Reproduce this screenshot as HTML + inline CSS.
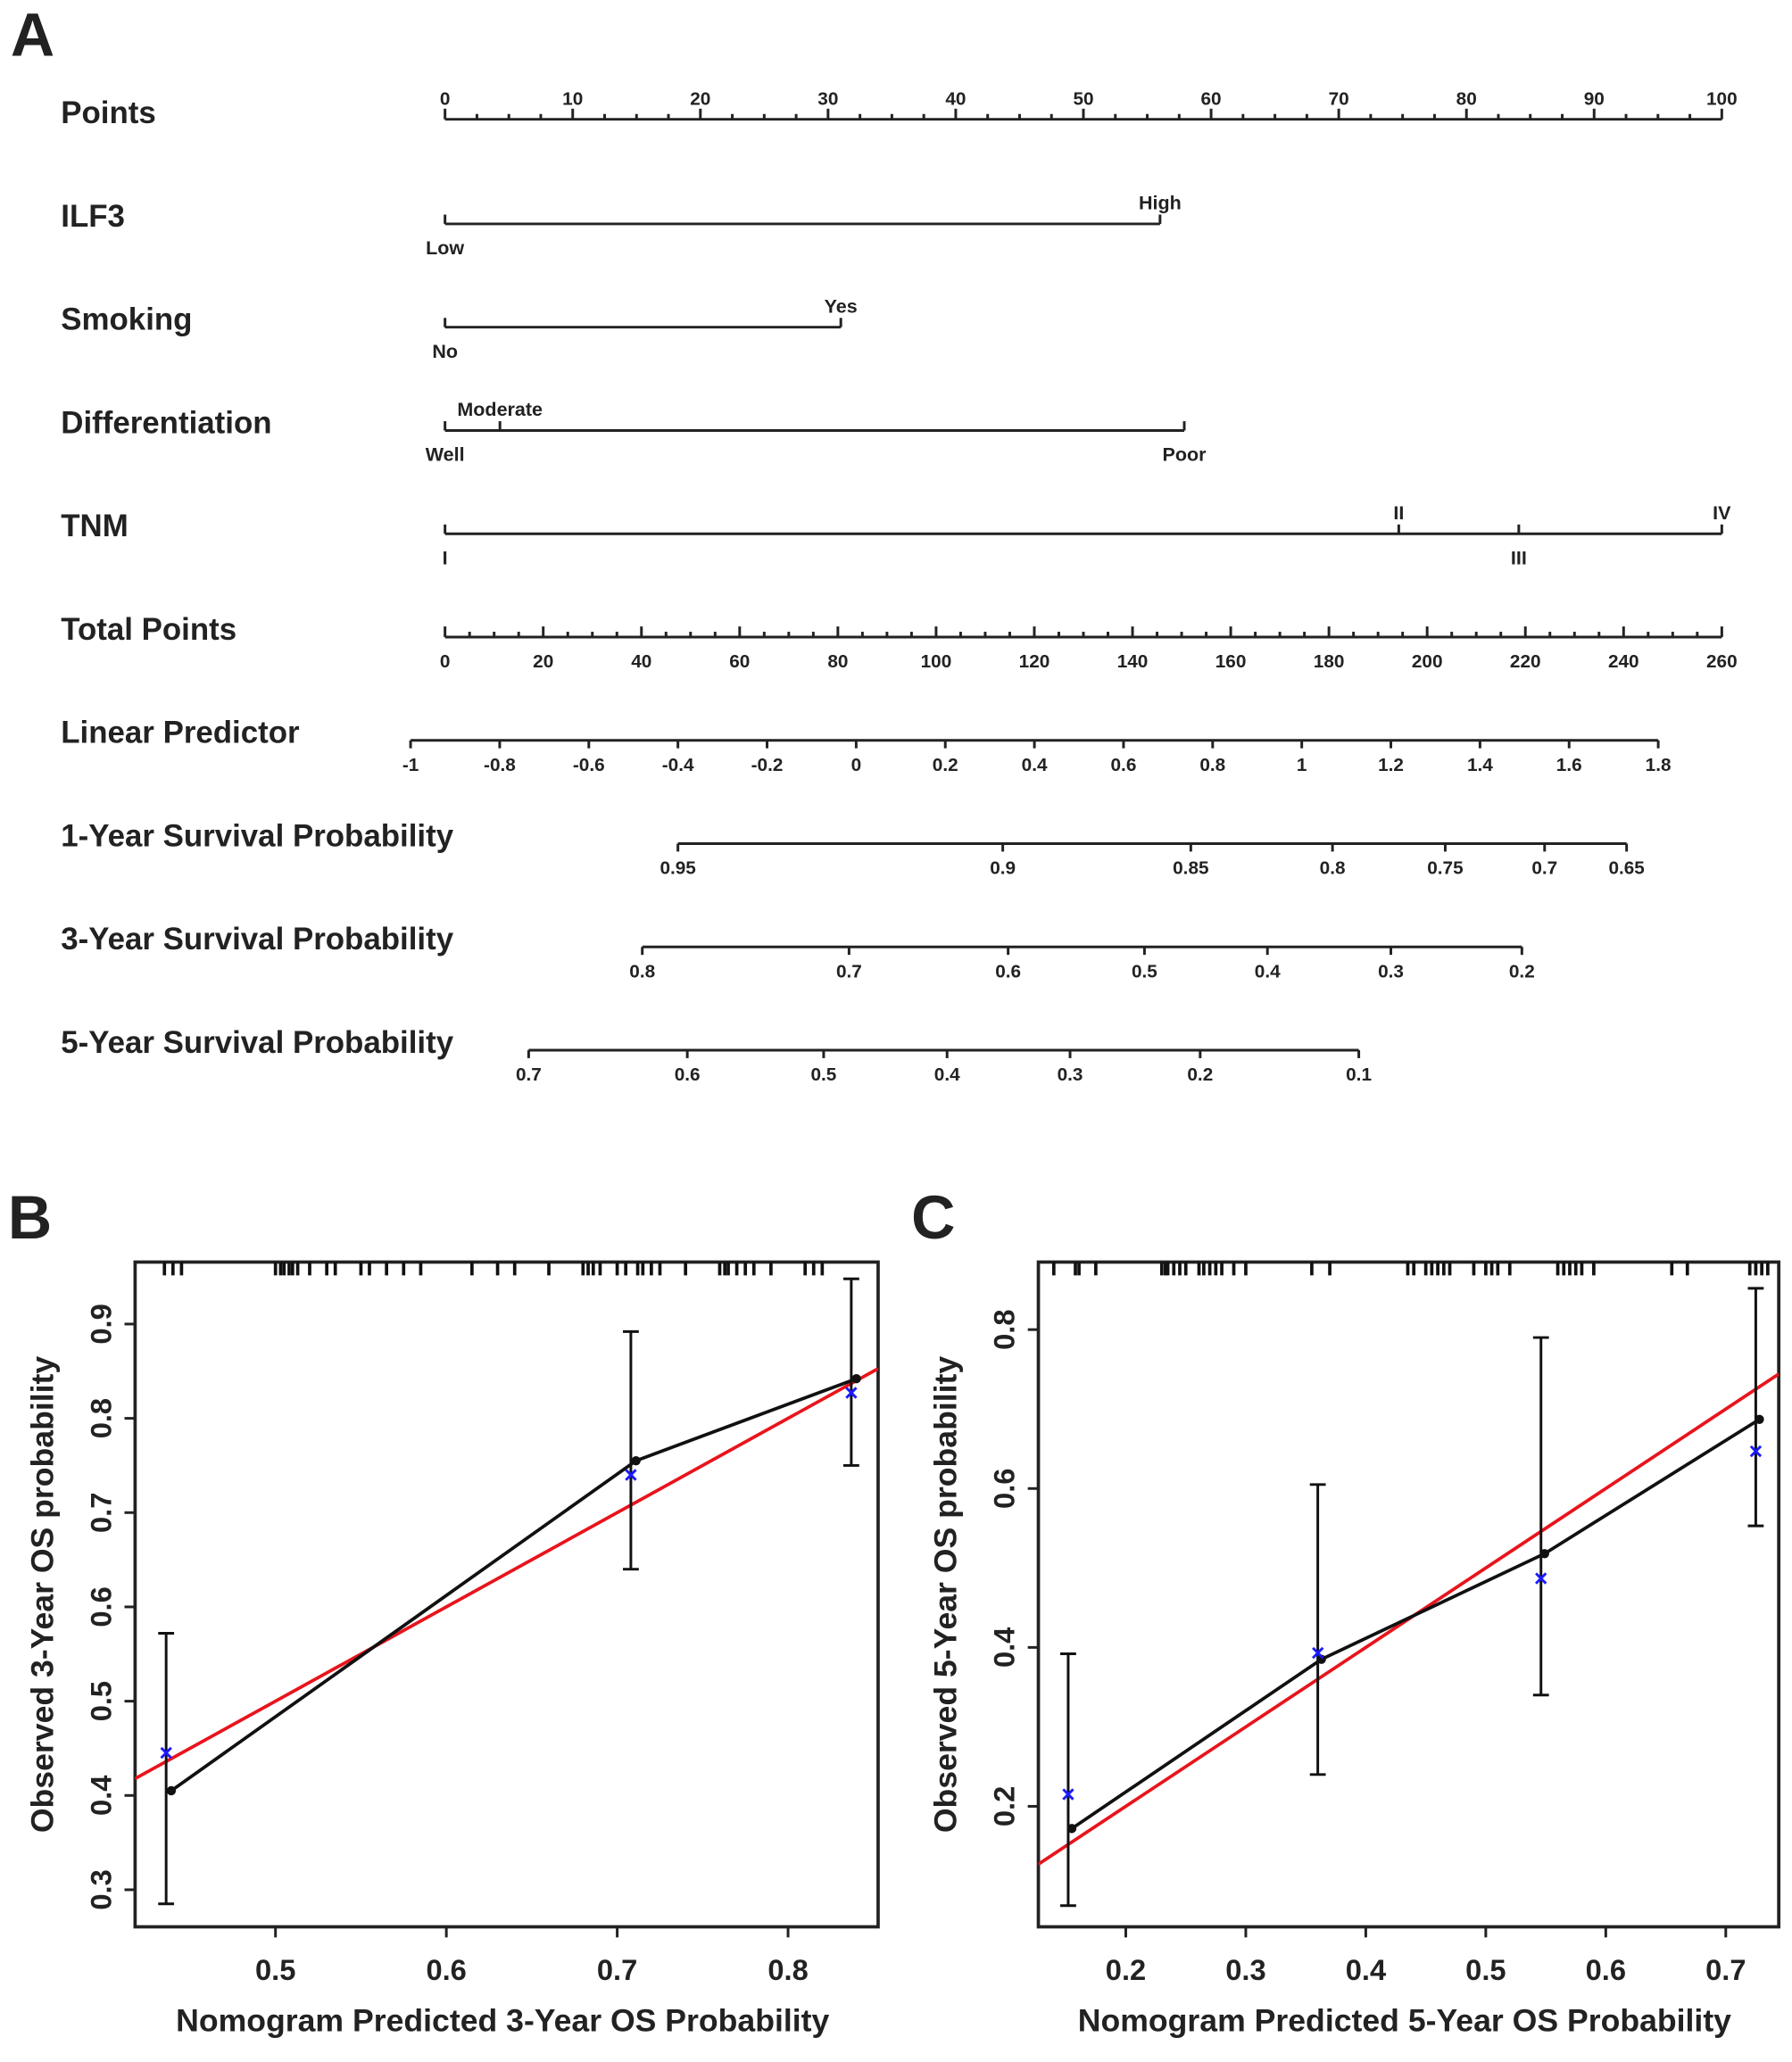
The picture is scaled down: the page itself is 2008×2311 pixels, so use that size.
<!DOCTYPE html>
<html><head><meta charset="utf-8"><style>
html,body{margin:0;padding:0;background:#fff}
svg{display:block}
text{font-family:"Liberation Sans",Arial,sans-serif;font-weight:bold;fill:#222}
</style></head><body>
<svg id="fig" width="2008" height="2311" viewBox="0 0 1353 1557" xmlns="http://www.w3.org/2000/svg">
<g id="nomo"></g>
<g id="pb"></g>
<g id="pc"></g>
</svg>
<script>
const NS="http://www.w3.org/2000/svg";
function el(p,tag,a,txt){const e=document.createElementNS(NS,tag);for(const k in a)e.setAttribute(k,a[k]);if(txt!==undefined)e.textContent=txt;p.appendChild(e);return e;}
function line(p,x1,y1,x2,y2,c,w){return el(p,'line',{x1,y1,x2,y2,stroke:c||'#222','stroke-width':w||2});}

// ===== Panel A data =====
const rowLabels=["Points","ILF3","Smoking","Differentiation","TNM","Total Points","Linear Predictor","1-Year Survival Probability","3-Year Survival Probability","5-Year Survival Probability"];
const pointsTicks=[0,10,20,30,40,50,60,70,80,90,100];
const ilf3Levels=["Low","High"], ilf3Points=[0,56];
const smokingLevels=["No","Yes"], smokingPoints=[0,31];
const diffLevels=["Well","Moderate","Poor"], diffPoints=[0,4.3,57.9];
const tnmLevels=["I","II","III","IV"], tnmPoints=[0,74.7,84.1,100];
const totalTicks=[0,20,40,60,80,100,120,140,160,180,200,220,240,260];
const lpTicks=[-1,-0.8,-0.6,-0.4,-0.2,0,0.2,0.4,0.6,0.8,1,1.2,1.4,1.6,1.8];
const surv1Labels=["0.95","0.9","0.85","0.8","0.75","0.7","0.65"], surv1LP=[-0.40,0.329,0.751,1.069,1.322,1.545,1.729];
const surv3Labels=["0.8","0.7","0.6","0.5","0.4","0.3","0.2"], surv3LP=[-0.48,-0.016,0.341,0.647,0.923,1.20,1.494];
const surv5Labels=["0.7","0.6","0.5","0.4","0.3","0.2","0.1"], surv5LP=[-0.735,-0.379,-0.073,0.204,0.48,0.772,1.128];

const nomo=document.getElementById('nomo');
const px=v=>336+v*9.64;
const tx=v=>336+v*(964/260);
const lx=v=>310+(v+1)*(942/2.8);
const rowY=i=>85+i*78;
const t=el(nomo,'text',{x:8,y:42,'font-size':46},"A");

rowLabels.forEach((s,i)=>{const e=el(nomo,'text',{x:46,y:rowY(i)+8,'font-size':23.5},s);
});
let y=90;line(nomo,px(0),y,px(100),y);
for(let v=0;v<=100;v+=2.5){const maj=v%10===0;line(nomo,px(v),y,px(v),y-(maj?8:4));}
pointsTicks.forEach(v=>el(nomo,'text',{x:px(v),y:79,'font-size':14,'text-anchor':'middle'},v));
function catRow(i,levels,pts,pos){const yy=rowY(i)+6;const g=el(nomo,'g',{});

line(g,px(Math.min(...pts)),yy,px(Math.max(...pts)),yy);
levels.forEach((l,k)=>{line(g,px(pts[k]),yy,px(pts[k]),yy-7);
el(g,'text',{x:px(pts[k]),y:pos[k]>0?yy+23:yy-11,'font-size':14.5,'text-anchor':'middle'},l);});}
catRow(1,ilf3Levels,ilf3Points,[1,-1]);
catRow(2,smokingLevels,smokingPoints,[1,-1]);
catRow(3,diffLevels,diffPoints,[1,-1,1]);
catRow(4,tnmLevels,tnmPoints,[1,-1,1,-1]);
y=481;line(nomo,tx(0),y,tx(260),y);
for(let v=0;v<=260;v+=5){const maj=v%20===0;line(nomo,tx(v),y,tx(v),y-(maj?8:4));}
totalTicks.forEach(v=>el(nomo,'text',{x:tx(v),y:504,'font-size':14,'text-anchor':'middle'},v));
y=559;line(nomo,lx(-1),y,lx(1.8),y);
lpTicks.forEach(v=>{line(nomo,lx(v),y,lx(v),y+6);el(nomo,'text',{x:lx(v),y:582,'font-size':14,'text-anchor':'middle'},String(Math.round(v*10)/10));});
function survRow(yy,labels,lp){line(nomo,lx(Math.min(...lp)),yy,lx(Math.max(...lp)),yy);
labels.forEach((l,k)=>{line(nomo,lx(lp[k]),yy,lx(lp[k]),yy+6);el(nomo,'text',{x:lx(lp[k]),y:yy+23,'font-size':14,'text-anchor':'middle'},l);});}
survRow(637,surv1Labels,surv1LP);survRow(715,surv3Labels,surv3LP);survRow(793,surv5Labels,surv5LP);

// ===== Panel B data =====
const bPred=[0.436,0.708,0.837];
const bObs=[0.405,0.755,0.842];
const bKM=[0.445,0.74,0.827];
const bLo=[0.285,0.64,0.75], bHi=[0.572,0.892,0.948];
const bXTicks=[0.5,0.6,0.7,0.8], bYTicks=[0.3,0.4,0.5,0.6,0.7,0.8,0.9];
const bRug=[0.435,0.44,0.445,0.5,0.503,0.505,0.508,0.51,0.513,0.52,0.53,0.535,0.55,0.555,0.565,0.575,0.585,0.615,0.63,0.64,0.66,0.68,0.683,0.686,0.69,0.70,0.705,0.712,0.715,0.72,0.725,0.74,0.76,0.763,0.765,0.77,0.775,0.78,0.79,0.81,0.815,0.82];
// ===== Panel C data =====
const cPred=[0.152,0.36,0.546,0.725];
const cObs=[0.172,0.385,0.518,0.687];
const cKM=[0.215,0.393,0.487,0.647];
const cLo=[0.075,0.24,0.34,0.553], cHi=[0.392,0.605,0.79,0.852];
const cXTicks=[0.2,0.3,0.4,0.5,0.6,0.7], cYTicks=[0.2,0.4,0.6,0.8];
const cRug=[0.14,0.158,0.161,0.175,0.23,0.233,0.235,0.24,0.245,0.25,0.261,0.265,0.27,0.275,0.28,0.29,0.3,0.355,0.37,0.435,0.44,0.45,0.455,0.46,0.465,0.47,0.49,0.5,0.505,0.51,0.52,0.56,0.565,0.57,0.575,0.58,0.59,0.655,0.668,0.72,0.725,0.73,0.735];

function calib(g,o){
  const X=v=>o.x0+(v-o.xv0)*o.xs, Y=v=>o.y0-(v-o.yv0)*o.ys;
  const L=o.box[0],R=o.box[1],T=o.box[2],B=o.box[3];
  el(g,'text',{x:o.lx,y:935,'font-size':46},o.letter);
  el(g,'rect',{x:L,y:T,width:R-L,height:B-T,fill:'none',stroke:'#222','stroke-width':2.5});
  const cp=el(g,'clipPath',{id:'clip'+o.letter});el(cp,'rect',{x:L,y:T,width:R-L,height:B-T});
  const inner=el(g,'g',{'clip-path':'url(#clip'+o.letter+')'});
  o.rug.forEach(v=>line(inner,X(v),T,X(v),T+10,'#111',2.5));
  const xa=o.xv0-(o.x0-L)/o.xs, xb=o.xv0+(R-o.x0)/o.xs;
  const red=line(inner,X(xa),Y(xa),X(xb),Y(xb),'#e8141c',2.5);
  
  el(inner,'polyline',{points:o.pred.map((p,i)=>X(p+0.003)+','+Y(o.obs[i])).join(' '),fill:'none',stroke:'#111','stroke-width':2.5});
  o.pred.forEach((p,i)=>{
    const x=X(p);
    line(inner,x,Y(o.lo[i]),x,Y(o.hi[i]),'#111',2);
    line(inner,x-6,Y(o.lo[i]),x+6,Y(o.lo[i]),'#111',2);
    line(inner,x-6,Y(o.hi[i]),x+6,Y(o.hi[i]),'#111',2);
    const d=el(inner,'circle',{cx:X(p+0.003),cy:Y(o.obs[i]),r:3.5,fill:'#111'});
    
    const k=el(inner,'text',{x:x,y:Y(o.km[i])+6,'font-size':18,'text-anchor':'middle',style:'fill:#1a1aff'},'×');
    
  });
  o.xt.forEach(v=>{line(g,X(v),B,X(v),B+8);el(g,'text',{x:X(v),y:1495,'font-size':22,'text-anchor':'middle'},v);});
  o.yt.forEach(v=>{line(g,L,Y(v),L-8,Y(v));el(g,'text',{x:L-24,y:Y(v),'font-size':22,'text-anchor':'middle',transform:`rotate(-90 ${L-24} ${Y(v)})`,'dominant-baseline':'middle'},v);});
  const xt=el(g,'text',{x:(L+R)/2-3,y:1534,'font-size':24,'text-anchor':'middle'},o.xtitle);
  
  const yc=(T+B)/2;const yt=el(g,'text',{x:o.ytx,y:yc,'font-size':24,'text-anchor':'middle',transform:`rotate(-90 ${o.ytx} ${yc})`},o.ytitle);
  
}
calib(document.getElementById('pb'),{letter:'B',lx:6,box:[102,663,953,1455],x0:208,xv0:0.5,xs:1290,y0:1427,yv0:0.3,ys:712,
  pred:bPred,obs:bObs,km:bKM,lo:bLo,hi:bHi,xt:bXTicks,yt:bYTicks,rug:bRug,
  xtitle:'Nomogram Predicted 3-Year OS Probability',ytitle:'Observed 3-Year OS probability',ytx:40});
calib(document.getElementById('pc'),{letter:'C',lx:688,box:[784,1343,953,1455],x0:850,xv0:0.2,xs:906,y0:1364,yv0:0.2,ys:600,
  pred:cPred,obs:cObs,km:cKM,lo:cLo,hi:cHi,xt:cXTicks,yt:cYTicks,rug:cRug,
  xtitle:'Nomogram Predicted 5-Year OS Probability',ytitle:'Observed 5-Year OS probability',ytx:722});
</script>
</body></html>
